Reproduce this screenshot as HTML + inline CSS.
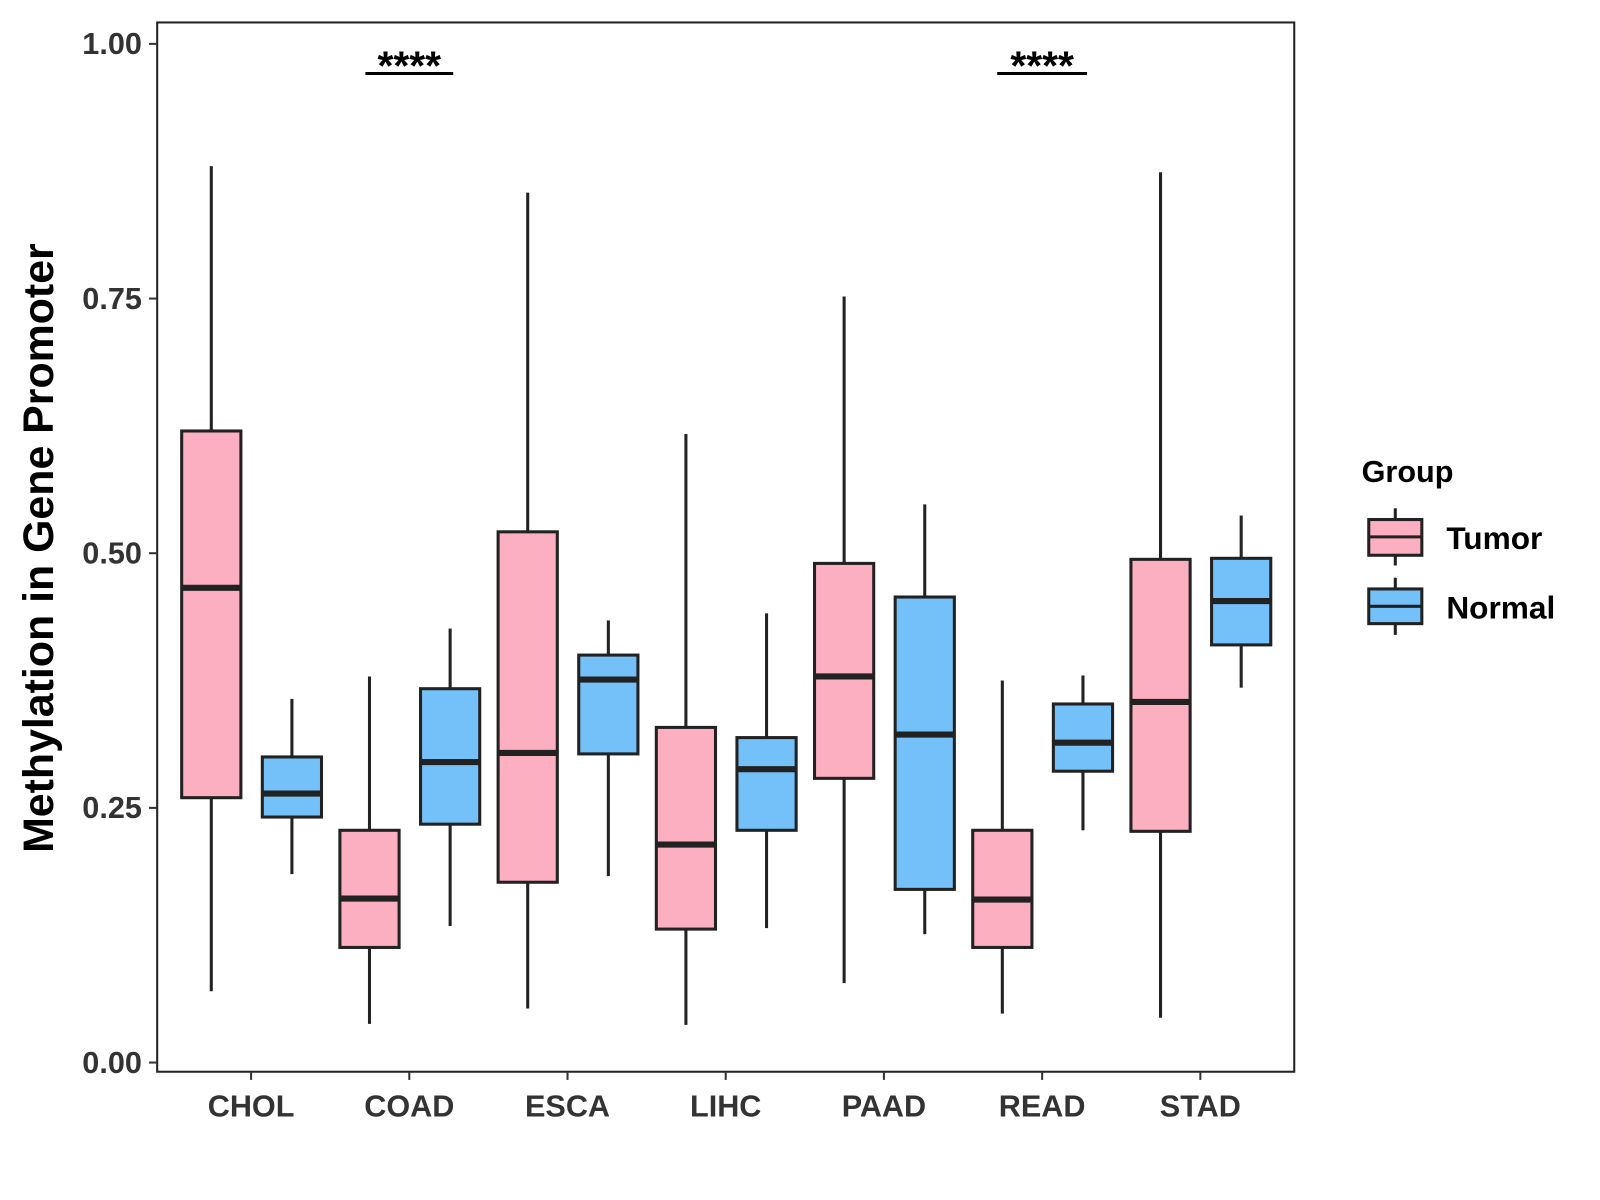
<!DOCTYPE html>
<html><head><meta charset="utf-8"><style>
html,body{margin:0;padding:0;background:#fff;}
svg{display:block;font-family:"Liberation Sans",Arial,sans-serif;}
</style></head><body>
<svg id="chart" width="1600" height="1200">
<g transform="scale(1.0207)">
<rect x="154" y="22" width="1114" height="1028" fill="#fff" stroke="#222" stroke-width="2"/>
<g id="axes"></g>
<g id="boxes"></g>
<text transform="translate(52,537) rotate(-90)" text-anchor="middle" font-size="42" font-weight="bold" fill="#000">Methylation in Gene Promoter</text>
<g>
<line x1="358" y1="72" x2="444" y2="72" stroke="#000" stroke-width="3"/>
<text x="401" y="78" text-anchor="middle" font-size="40" font-weight="bold">****</text>
</g>
<g>
<line x1="977" y1="72" x2="1065" y2="72" stroke="#000" stroke-width="3"/>
<text x="1021" y="78" text-anchor="middle" font-size="40" font-weight="bold">****</text>
</g>
<g>
<text x="1334" y="472" font-size="30" font-weight="bold">Group</text>
<g>
<line x1="1367" y1="498" x2="1367" y2="554" stroke="#222" stroke-width="3"/>
<rect x="1341" y="509" width="52" height="35" fill="#FBAFC0" stroke="#222" stroke-width="3"/>
<line x1="1341" y1="526" x2="1393" y2="526" stroke="#222" stroke-width="3"/>
<text x="1417" y="538" font-size="31" font-weight="bold">Tumor</text>
</g>
<g>
<line x1="1367" y1="566" x2="1367" y2="622" stroke="#222" stroke-width="3"/>
<rect x="1341" y="577" width="52" height="34" fill="#74C0F8" stroke="#222" stroke-width="3"/>
<line x1="1341" y1="594" x2="1393" y2="594" stroke="#222" stroke-width="3"/>
<text x="1417" y="606" font-size="31" font-weight="bold">Normal</text>
</g>
</g>
</g>
</svg>
<script>
const categories = ["CHOL","COAD","ESCA","LIHC","PAAD","READ","STAD"];
const yTicks = [0,0.25,0.5,0.75,1];
const yTickLabels = ["0.00","0.25","0.50","0.75","1.00"];
// [min, q1, median, q3, max]
const tumorStats = [
 [0.07,0.26,0.466,0.62,0.88],
 [0.038,0.113,0.161,0.228,0.379],
 [0.053,0.177,0.304,0.521,0.854],
 [0.037,0.131,0.214,0.329,0.617],
 [0.078,0.279,0.379,0.490,0.752],
 [0.048,0.113,0.160,0.228,0.375],
 [0.044,0.227,0.354,0.494,0.874]
];
const normalStats = [
 [0.185,0.241,0.264,0.300,0.357],
 [0.134,0.234,0.295,0.367,0.426],
 [0.183,0.303,0.376,0.400,0.434],
 [0.132,0.228,0.288,0.319,0.441],
 [0.126,0.170,0.322,0.457,0.548],
 [0.228,0.286,0.314,0.352,0.380],
 [0.368,0.410,0.453,0.495,0.537]
];
const NS="http://www.w3.org/2000/svg";
const yS = v => 1041 - v*998;
const xS = i => 246 + i*155;
function mk(tag, attrs, parent){const e=document.createElementNS(NS,tag);for(const k in attrs)e.setAttribute(k,attrs[k]);parent.appendChild(e);return e;}
const axes=document.getElementById('axes');
yTicks.forEach((t,i)=>{
 const g=mk('g',{},axes);
 
 
 mk('line',{x1:146,x2:154,y1:yS(t),y2:yS(t),stroke:'#333','stroke-width':2},g);
 const tx=mk('text',{x:139,y:yS(t)+10,'text-anchor':'end','font-size':30,'font-weight':'bold',fill:'#333'},g);
 tx.textContent=yTickLabels[i];
});
categories.forEach((c,i)=>{
 const g=mk('g',{},axes);
 
 
 mk('line',{x1:xS(i),x2:xS(i),y1:1050,y2:1058,stroke:'#333','stroke-width':2},g);
 const tx=mk('text',{x:xS(i),y:1094,'text-anchor':'middle','font-size':30,'font-weight':'bold',fill:'#333'},g);
 tx.textContent=c;
});
const boxes=document.getElementById('boxes');
function drawBox(s,cx,fill,name){
 const g=mk('g',{},boxes);
 
 
 const w=58;
 mk('line',{x1:cx,x2:cx,y1:yS(s[4]),y2:yS(s[3]),stroke:'#222','stroke-width':3},g);
 mk('line',{x1:cx,x2:cx,y1:yS(s[1]),y2:yS(s[0]),stroke:'#222','stroke-width':3},g);
 mk('rect',{x:cx-w/2,y:yS(s[3]),width:w,height:yS(s[1])-yS(s[3]),fill:fill,stroke:'#222','stroke-width':3},g);
 mk('line',{x1:cx-w/2,x2:cx+w/2,y1:yS(s[2]),y2:yS(s[2]),stroke:'#222','stroke-width':6},g);
}
categories.forEach((c,i)=>{
 drawBox(tumorStats[i],xS(i)-39,'#FBAFC0','box-tumor-'+c.toLowerCase());
 drawBox(normalStats[i],xS(i)+40,'#74C0F8','box-normal-'+c.toLowerCase());
});
</script>
</body></html>
